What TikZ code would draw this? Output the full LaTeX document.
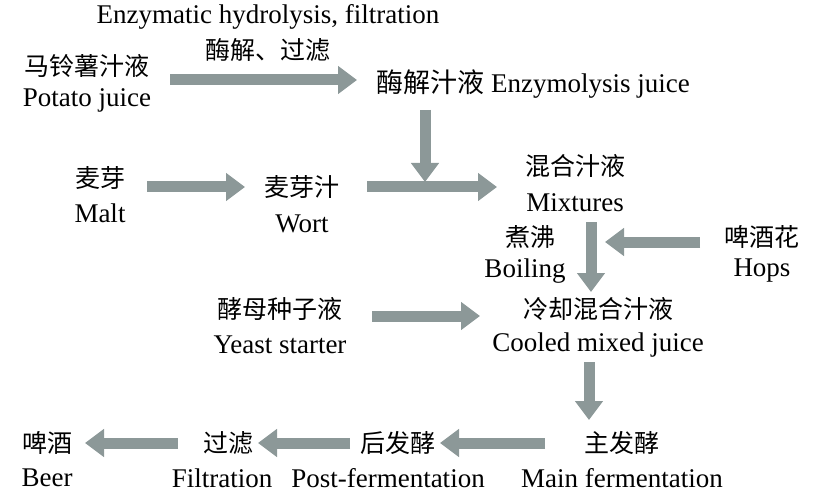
\documentclass[tikz,border=0pt]{standalone}
\usepackage{fontspec}
\setmainfont{Liberation Serif}
\newfontfamily\cjk{Noto Sans CJK SC}
\usetikzlibrary{arrows.meta}
\begin{document}
\begin{tikzpicture}[x=1pt,y=-1pt,
  t/.style={inner sep=0pt,font=\fontsize{27}{30}\selectfont},
  c/.style={inner sep=0pt,font=\fontsize{25}{30}\selectfont\cjk},
  ba/.style={draw={rgb,255:red,140;green,152;blue,152},line width=11pt,-{Triangle[width=27pt,length=19pt]}}]
\useasboundingbox (0,0) rectangle (825,500);
\node[t] (eh) at (268,17) {Enzymatic hydrolysis, filtration};
\node[c] (ehc) at (268,50) {酶解、过滤};
\node[c] (pc) at (87,66) {马铃薯汁液};
\node[t] (pe) at (87,100) {Potato juice};
\node[t] (ej) at (533,84) {{\cjk 酶解汁液} Enzymolysis juice};
\node[c] (mc) at (100,178) {麦芽};
\node[t] (me) at (100,213) {Malt};
\node[c] (wc) at (302,187) {麦芽汁};
\node[t] (we) at (302,224) {Wort};
\node[c] (xc) at (575,166) {混合汁液};
\node[t] (xe) at (575,203) {Mixtures};
\node[c] (bc) at (530,237) {煮沸};
\node[t] (be) at (525,271) {Boiling};
\node[c] (hc) at (762,237) {啤酒花};
\node[t] (he) at (762,271) {Hops};
\node[c] (yc) at (280,309) {酵母种子液};
\node[t] (ye) at (280,345) {Yeast starter};
\node[c] (cc) at (598,309) {冷却混合汁液};
\node[t] (ce) at (598,345) {Cooled mixed juice};
\node[c] (fc) at (622,443) {主发酵};
\node[t] (fe) at (622,478) {Main fermentation};
\node[c] (pfc) at (398,443) {后发酵};
\node[t] (pfe) at (388,478) {Post-fermentation};
\node[c] (flc) at (228,443) {过滤};
\node[t] (fle) at (222,478) {Filtration};
\node[c] (brc) at (47,443) {啤酒};
\node[t] (bre) at (47,478) {Beer};
\coordinate (a1s) at (170,80); \coordinate (a1e) at (357,80);
\coordinate (a2s) at (425,110); \coordinate (a2e) at (425,182);
\coordinate (a3s) at (147,187); \coordinate (a3e) at (245,187);
\coordinate (a4s) at (367,187); \coordinate (a4e) at (497,187);
\coordinate (a5s) at (591,222); \coordinate (a5e) at (591,292);
\coordinate (a6s) at (700,242); \coordinate (a6e) at (605,242);
\coordinate (a7s) at (372,316); \coordinate (a7e) at (480,316);
\coordinate (a8s) at (589,362); \coordinate (a8e) at (589,420);
\coordinate (a9s) at (545,443); \coordinate (a9e) at (440,443);
\coordinate (a10s) at (350,443); \coordinate (a10e) at (258,443);
\coordinate (a11s) at (178,443); \coordinate (a11e) at (85,443);
\foreach \i in {1,...,11} \draw[ba] (a\i s) -- (a\i e);
\end{tikzpicture}
\end{document}
